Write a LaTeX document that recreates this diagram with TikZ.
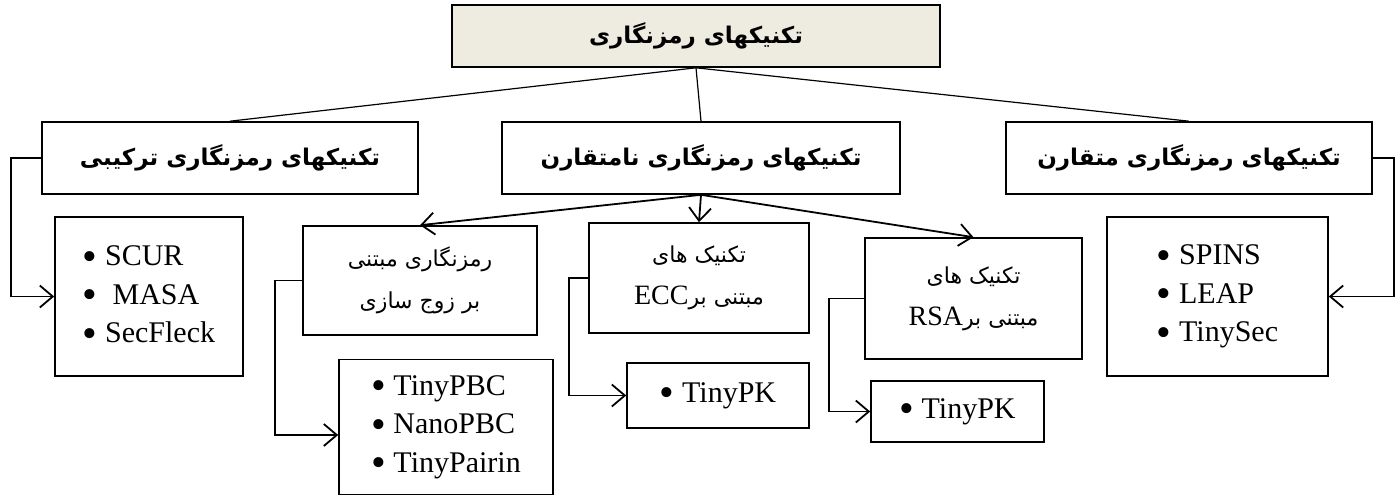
\documentclass[tikz,border=0pt]{standalone}
\usepackage{fontspec}
\setmainfont{Liberation Serif}
\newfontfamily\persian[Script=Arabic]{DejaVu Sans}
\TeXXeTstate=1
\usetikzlibrary{arrows.meta}
\definecolor{titlefill}{RGB}{238,236,225}
\newcommand{\rtl}[1]{\beginR #1\endR}
\newcommand{\ltr}[1]{\beginL{\rmfamily\fontsize{28}{42}\selectfont #1}\endL}
\newcommand{\itm}{\raisebox{-4.5pt}{\fontsize{42}{42}\selectfont\textbullet}\ }
\tikzset{
        % Category boxes (bold titles)
        headbox/.style={draw, line width=1.6pt, inner sep=0pt, font=\persian\bfseries\fontsize{23}{28}\selectfont},
        % Sub-category boxes (two lines)
        subbox/.style={draw, line width=1.6pt, inner sep=0pt, align=center, font=\persian\fontsize{22}{42}\selectfont},
        % Protocol lists
        listbox/.style={draw, line width=1.6pt, inner sep=0pt, align=left, font=\fontsize{30}{38.5}\selectfont},
        % Plain tree links
        link/.style={line width=1.2pt},
        % Arrows into the lists
        feed/.style={->, line width=1.8pt}
}

\begin{document}
\begin{tikzpicture}[x=1pt, y=-1pt, >={Straight Barb[length=13pt,width=22pt]}]
\useasboundingbox (0,0) rectangle (1399,496);

% root
\node[headbox, fill=titlefill, minimum width=488pt, minimum height=62pt] (root) at (696,36) {\rtl{تکنیکهای رمزنگاری}};

% first level
\node[headbox, minimum width=376pt, minimum height=72pt] (hyb) at (230,158) {\rtl{تکنیکهای رمزنگاری ترکیبی}};
\node[headbox, minimum width=398pt, minimum height=72pt] (asym) at (701,158) {\rtl{تکنیکهای رمزنگاری نامتقارن}};
\node[headbox, minimum width=366pt, minimum height=72pt] (sym) at (1189,158) {\rtl{تکنیکهای رمزنگاری متقارن}};

% asymmetric sub-categories
\node[subbox, minimum width=234pt, minimum height=109pt] (pair) at (420,280.5) {\rtl{رمزنگاری مبتنی}\\\rtl{بر زوج سازی}};
\node[subbox, minimum width=220pt, minimum height=110pt] (ecc) at (699,278) {\rtl{تکنیک های}\\\rtl{مبتنی بر\ltr{ECC}}};
\node[subbox, minimum width=217pt, minimum height=121pt] (rsa) at (973.5,298.5) {\rtl{تکنیک های}\\\rtl{مبتنی بر\ltr{RSA}}};

% protocol lists
\node[listbox, minimum width=188pt, minimum height=159pt] (hybList) at (149,296.5) {\itm SCUR\\\itm\ MASA\\\itm SecFleck};
\node[listbox, minimum width=214pt, minimum height=135pt] (pairList) at (446,427) {\itm TinyPBC\\\itm NanoPBC\\\itm TinyPairin};
\node[listbox, minimum width=182pt, minimum height=65pt] (eccList) at (718,395.5) {\itm TinyPK};
\node[listbox, minimum width=173pt, minimum height=61pt] (rsaList) at (957.5,411.5) {\itm TinyPK};
\node[listbox, minimum width=221pt, minimum height=159pt] (symList) at (1217.5,296.5) {\itm SPINS\\\itm LEAP\\\itm TinySec};

% links
\draw[link] (root.south) -- (hyb.north);
\draw[link] (root.south) -- (asym.north);
\draw[link] (root.south) -- (sym.north);

\draw[feed] (asym.south) -- (pair.north);
\draw[feed] (asym.south) -- (ecc.north);
\draw[feed] (asym.south) -- (rsa.north);

\draw[feed] (hyb.west) -- ++(-30,0) |- (hybList.west);
\draw[feed] (pair.west) -- ++(-27,0) |- ([yshift=-8pt]pairList.west);
\draw[feed] (ecc.west) -- ++(-19,0) |- (eccList.west);
\draw[feed] (rsa.west) -- ++(-35,0) |- (rsaList.west);
\draw[feed] (sym.east) -- ++(21,0) |- (symList.east);
\end{tikzpicture}
\end{document}
